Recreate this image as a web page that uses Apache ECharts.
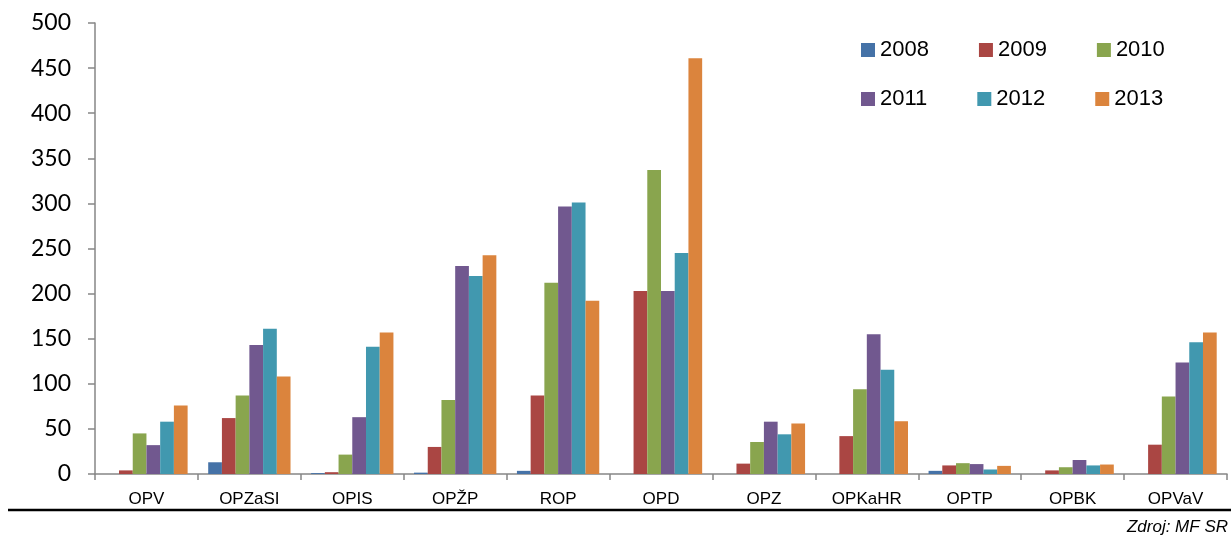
<!DOCTYPE html>
<html>
<head>
<meta charset="utf-8">
<script src="https://cdn.jsdelivr.net/npm/echarts@6/dist/echarts.min.js"></script>
<style>
html,body{margin:0;padding:0;background:#fff;}
#chart{width:1231px;height:539px;}
</style>
</head>
<body>
<div id="chart"></div>
<script>
const categories = ['OPV','OPZaSI','OPIS','OPŽP','ROP','OPD','OPZ','OPKaHR','OPTP','OPBK','OPVaV'];
const years = ['2008','2009','2010','2011','2012','2013'];
const s2008 = [0, 13, 1, 1.5, 3.5, 0, 0, 0, 3.5, 0, 0];
const s2009 = [4, 62, 2, 30, 87, 203, 11.5, 42, 9.5, 4, 32.5];
const s2010 = [45, 87, 21.5, 82, 212, 337, 35.5, 94, 12, 7.5, 86];
const s2011 = [32, 143, 63, 230.5, 296.5, 203, 58, 155, 11, 15.5, 123.5];
const s2012 = [58, 161, 141, 219.5, 301, 245, 44, 115.5, 5, 9.5, 146];
const s2013 = [76, 108, 157, 242.5, 192, 461, 56, 58.5, 9, 10.5, 157];
const yTicks = [0,50,100,150,200,250,300,350,400,450,500];
const colors = ['#4572A7','#AA4643','#89A54E','#71588F','#4198AF','#DB843D'];
const seriesData = [s2008, s2009, s2010, s2011, s2012, s2013];

const chart = echarts.init(document.getElementById('chart'));
const legendCommon = {
  orient: 'horizontal',
  icon: 'rect',
  padding: 0,
  itemWidth: 14,
  itemHeight: 14,
  itemGap: 50,
  textStyle: {fontFamily: 'Liberation Sans, Arial, sans-serif', fontSize: 22, color: '#000', lineHeight: 22},
  selectedMode: false
};
chart.setOption({
  animation: false,
  color: colors,
  grid: {left: 95, right: 4, top: 23, bottom: 65, containLabel: false},
  legend: [
    Object.assign({left: 861, top: 39, data: years.slice(0,3)}, legendCommon),
    Object.assign({left: 861, top: 88, data: years.slice(3,6)}, legendCommon)
  ],
  xAxis: {
    type: 'category',
    data: categories,
    axisLine: {lineStyle: {color: '#868686', width: 1.5}},
    axisTick: {show: true, length: 6, lineStyle: {color: '#868686', width: 1.5}},
    axisLabel: {fontFamily: 'Liberation Sans, Arial, sans-serif', fontSize: 17, color: '#000', margin: 17}
  },
  yAxis: {
    type: 'value',
    min: yTicks[0],
    max: yTicks[yTicks.length-1],
    interval: 50,
    splitLine: {show: false},
    axisLine: {show: true, lineStyle: {color: '#868686', width: 1.5}},
    axisTick: {show: true, inside: false, length: 7, lineStyle: {color: '#868686', width: 1.5}},
    axisLabel: {fontFamily: 'Lato, Open Sans, sans-serif', fontSize: 23, color: '#000', margin: 24}
  },
  series: years.map((y, i) => ({
    name: y,
    type: 'bar',
    data: seriesData[i],
    barGap: '0%',
    barCategoryGap: '20%',
    itemStyle: {color: colors[i]}
  })),
  graphic: [
    {type: 'line', shape: {x1: 8, y1: 510, x2: 1231, y2: 510}, style: {stroke: '#000', lineWidth: 2.5}},
    {type: 'text', right: 3, top: 519, style: {text: 'Zdroj: MF SR', font: 'italic 17px Liberation Sans, Arial, sans-serif', fill: '#000'}}
  ]
});
</script>
</body>
</html>
